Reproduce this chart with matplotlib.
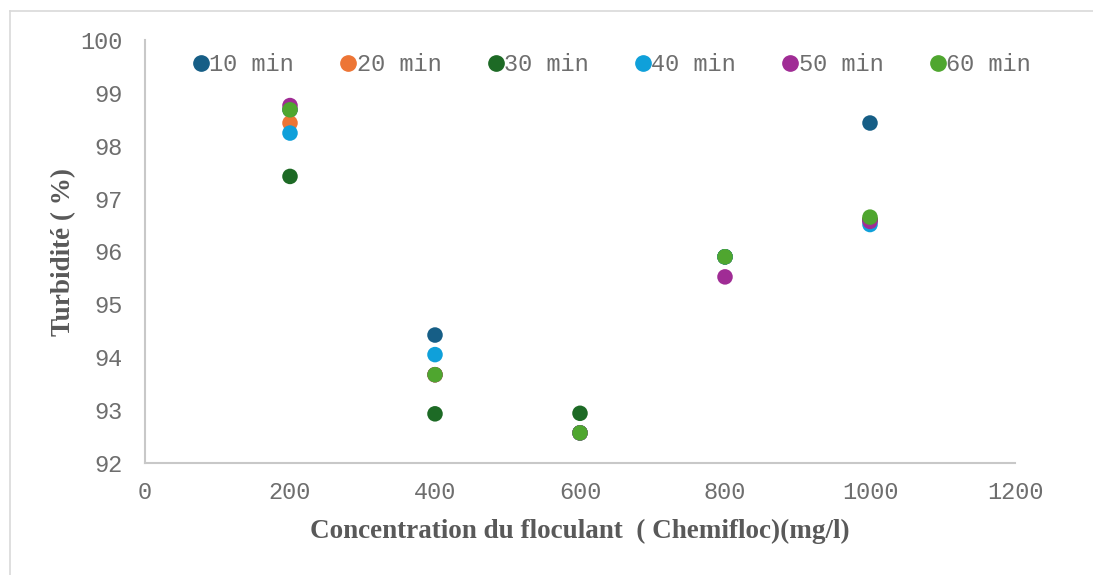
import numpy as np
import matplotlib
matplotlib.use("Agg")
import matplotlib.pyplot as plt
from matplotlib.lines import Line2D

# concentration (mg/l)
conc = [200, 400, 600, 800, 1000]

# turbidite (%) par temps
t10 = [98.68, 94.42, 92.57, 95.90, 98.43]
t20 = [98.43, 93.67, 92.57, 95.90, 96.60]
t30 = [97.42, 92.93, 92.94, 95.90, 96.60]
t40 = [98.24, 94.05, 92.57, 95.90, 96.51]
t50 = [98.76, 93.67, 92.57, 95.52, 96.57]
t60 = [98.68, 93.67, 92.57, 95.90, 96.65]

series = [t10, t20, t30, t40, t50, t60]
labels = ['10 min', '20 min', '30 min', '40 min', '50 min', '60 min']
colors = ['#165E86', '#ED7535', '#1D6A25', '#0FA0DA', '#A02C95', '#4FA62F']

fig = plt.figure(figsize=(10.93, 5.75), dpi=100)
ax = fig.add_axes([145/1093, 112/575, 870/1093, 423/575])

for s, lab, c in zip(series, labels, colors):
    ax.scatter(conc, s, s=125, color=c, label=lab, zorder=3, edgecolors='none')

ax.set_xlim(0, 1200)
ax.set_ylim(92, 100)
ax.set_xticks(np.arange(0, 1201, 200))
ax.set_yticks(np.arange(92, 101, 1))
for sp in ['top', 'right']:
    ax.spines[sp].set_visible(False)
for sp in ['left', 'bottom']:
    ax.spines[sp].set_color('#C8C8C8')
    ax.spines[sp].set_linewidth(1.5)
ax.tick_params(length=0, labelsize=17, labelcolor='#6E6E6E')
ax.tick_params(axis='y', pad=16)
ax.tick_params(axis='x', pad=13)
for t in ax.get_xticklabels() + ax.get_yticklabels():
    t.set_family('Liberation Mono')

ax.set_xlabel('Concentration du floculant  ( Chemifloc)(mg/l)', family='Liberation Serif',
              fontweight='bold', fontsize=19.5, color='#595959', labelpad=11)
ax.set_ylabel('Turbidité ( %)', family='Liberation Serif', fontweight='bold',
              fontsize=19.5, color='#595959', labelpad=3)

handles = [Line2D([], [], marker='o', ls='', color=c, markersize=11) for c in colors]
leg = ax.legend(handles, labels, loc='upper left', bbox_to_anchor=(0.036, 1.008), ncol=6,
                frameon=False, prop={'family': 'Liberation Mono', 'size': 17},
                handletextpad=0.0, columnspacing=1.95, handlelength=0.7,
                borderaxespad=0.3)
for t in leg.get_texts():
    t.set_color('#6E6E6E')

# cadre du graphique
fig.add_artist(Line2D([10/1093, 10/1093], [0, 1 - 11/575], color='#D9D9D9', lw=1.2))
fig.add_artist(Line2D([10/1093, 1], [1 - 11/575, 1 - 11/575], color='#D9D9D9', lw=1.2))

fig.savefig('out.png', dpi=100)
